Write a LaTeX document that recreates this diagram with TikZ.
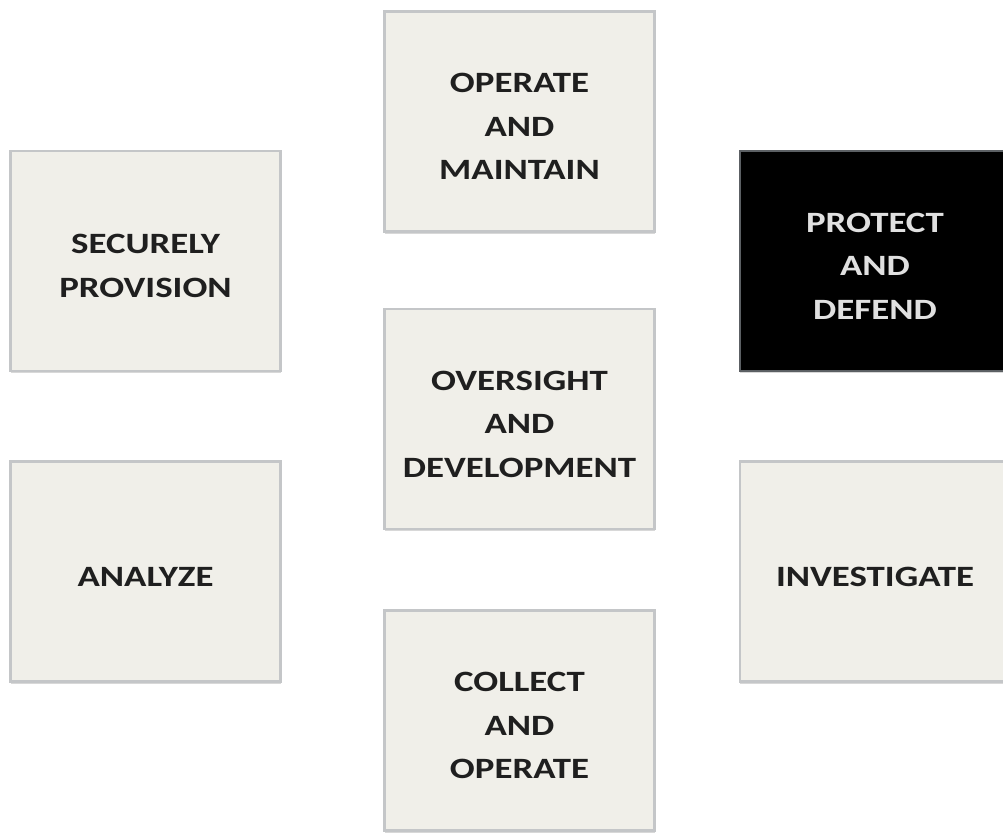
\documentclass[tikz,border=0pt]{standalone}
\usepackage{fontspec}
\usetikzlibrary{shadows}
\newfontfamily\areafont{Carlito}[FakeStretch=1.25]
\definecolor{areafill}{RGB}{240,239,233}
\definecolor{areaedge}{RGB}{196,198,200}
\definecolor{hotedge}{RGB}{92,96,100}

\tikzset{
	area/.style={draw=areaedge, line width=2.5pt, fill=areafill,
		minimum width=270pt, minimum height=220pt, inner sep=0pt,
		align=center, text=black!88, text height=29pt, text depth=0pt,
		drop shadow={shadow xshift=0pt, shadow yshift=-2pt, fill=black!30},
		font=\areafont\bfseries\fontsize{29.5}{43.5}\selectfont},
	twoline/.style={text height=72.5pt},
	threeline/.style={text height=116pt},
	hotarea/.style={area, fill=black, draw=hotedge, text=white!88!black},
}

\begin{document}
\begin{tikzpicture}[x=1pt, y=-1pt]
	\useasboundingbox (0,0) rectangle (1003,832);
	% middle column
	\node[area, threeline] (om) at (519.5,121.5) {OPERATE\\AND\\MAINTAIN};
	\node[area, threeline] (od) at (519.5,419) {OVERSIGHT\\AND\\DEVELOPMENT};
	\node[area, threeline] (co) at (519.5,720.5) {COLLECT\\AND\\OPERATE};
	% side columns
	\node[area, twoline] (sp) at (145.5,261) {SECURELY\\PROVISION};
	\node[hotarea, threeline] (pd) at (875,261) {PROTECT\\AND\\DEFEND};
	\node[area] (an) at (145.5,571.5) {ANALYZE};
	\node[area] (iv) at (875,571.5) {INVESTIGATE};
\end{tikzpicture}
\end{document}
